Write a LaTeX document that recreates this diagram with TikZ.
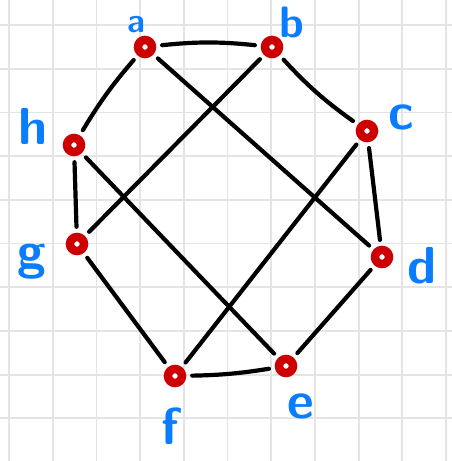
\documentclass[tikz,border=0pt]{standalone}
\usepackage{fontspec}
\definecolor{gridc}{RGB}{228,228,228}
\definecolor{vred}{RGB}{204,0,0}
\definecolor{lblue}{RGB}{10,125,255}
\tikzset{
  gridline/.style={draw=gridc, line width=1.8pt},
  vtx/.style={circle, draw=vred, line width=8.5pt, minimum size=14pt, inner sep=0pt, fill=white},
  edge/.style={draw=black, line width=4.2pt, line cap=round, shorten >=6pt, shorten <=6pt},
  lbl/.style={text=lblue, font=\sffamily\bfseries\fontsize{52}{52}\selectfont, inner sep=0pt}
}
\begin{document}
\begin{tikzpicture}[x=1pt,y=-1pt]
\useasboundingbox (0,0) rectangle (452,461);
\clip (0,0) rectangle (452,461);
\fill[white] (0,0) rectangle (452,461);
\foreach \i in {0,...,10} \draw[gridline] (9+43.7*\i,0) -- (9+43.7*\i,461);
\foreach \j in {0,...,9} \draw[gridline] (0,25+43.7*\j) -- (452,25+43.7*\j);

\node[vtx] (a) at (145,47) {};
\node[vtx] (b) at (272,47) {};
\node[vtx] (c) at (367,131) {};
\node[vtx] (d) at (382,257) {};
\node[vtx] (e) at (286,366) {};
\node[vtx] (f) at (175,376) {};
\node[vtx] (g) at (77,244) {};
\node[vtx] (h) at (74,145) {};

\draw[edge] (a) to[bend left=6] (b);
\draw[edge] (b) to[bend right=6] (c);
\draw[edge] (c) -- (d);
\draw[edge] (d) -- (e);
\draw[edge] (e) to[bend left=4] (f);
\draw[edge] (f) -- (g);
\draw[edge] (g) -- (h);
\draw[edge] (h) to[bend left=5] (a);
\draw[edge] (a) -- (d);
\draw[edge] (b) -- (g);
\draw[edge] (h) -- (e);
\draw[edge] (c) -- (f);

\node[lbl, font=\sffamily\bfseries\fontsize{34}{34}\selectfont, anchor=base] (la) at (136,32) {a};
\node[lbl, font=\sffamily\bfseries\fontsize{44}{44}\selectfont] (lb) at (292,22) {b};
\node[lbl] (lc) at (401,117) {c};
\node[lbl] (ld) at (422,266) {d};
\node[lbl] (le) at (301,406) {e};
\node[lbl] (lf) at (170,426) {f};
\node[lbl] (lg) at (32,262) {g};
\node[lbl] (lh) at (33,126) {h};
\end{tikzpicture}
\end{document}
